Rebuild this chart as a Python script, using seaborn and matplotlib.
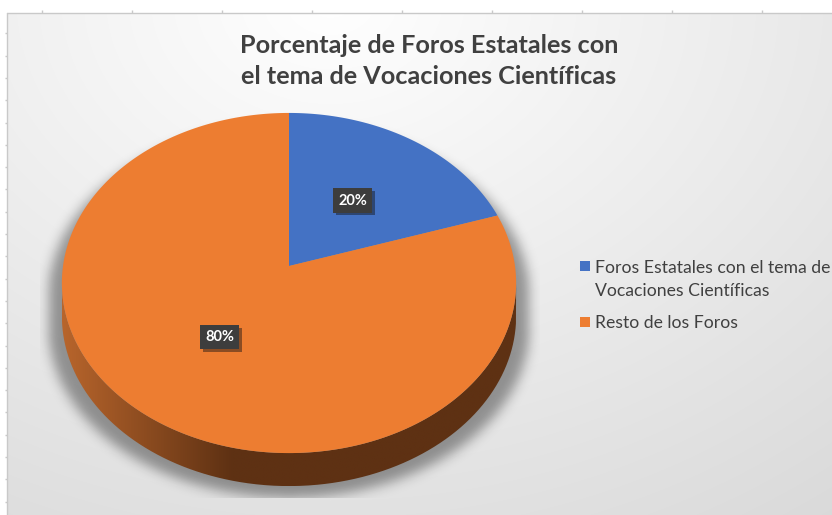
import numpy as np
import matplotlib
matplotlib.use("Agg")
import matplotlib.pyplot as plt
import matplotlib.transforms as mtransforms
import matplotlib.patheffects as pe
from matplotlib.path import Path
from matplotlib.patches import PathPatch
from matplotlib.colors import to_rgb
import seaborn as sns

# chart data
categories = ["Foros Estatales con el tema de\nVocaciones Científicas", "Resto de los Foros"]
shares = [20, 80]
slice_colors = ["#4472C4", "#ED7D31"]
title_text = "Porcentaje de Foros Estatales con\nel tema de Vocaciones Científicas"

W, H = 832, 515
PX = 226.0            # pixels per pie radius
TILT = 0.1            # perspective strength (far edge smaller)
SQUASH = 0.745        # vertical squeeze of the tilted disc
DEPTH = 33 / PX       # thickness of the disc


class Tilt(mtransforms.Transform):
    """Project the flat pie onto a tilted disc seen in perspective."""
    input_dims = output_dims = 2

    def __init__(self, drop=0.0):
        super().__init__()
        self.drop = drop

    def transform_non_affine(self, values):
        xy = np.atleast_2d(np.asarray(values, float))
        w = 1 + TILT * xy[:, 1]
        return np.column_stack([xy[:, 0] / w, SQUASH * xy[:, 1] / w - self.drop])

    def transform_path_non_affine(self, path):
        pts = []
        t = np.linspace(0, 1, 30)
        for seg, code in path.iter_bezier():
            pts.extend(seg(t))
        pts = np.array(pts)
        pts = np.vstack([pts, pts[:1]])
        return Path(self.transform_non_affine(pts), closed=True)


sns.set_theme(style="white")
plt.rcParams["font.family"] = ["Lato", "DejaVu Sans"]

fig = plt.figure(figsize=(W / 100, H / 100), dpi=100)

# background: soft radial grey gradient like the spreadsheet chart area
bg = fig.add_axes([0, 0, 1, 1])
bg.set_xlim(0, W)
bg.set_ylim(H, 0)
bg.axis("off")
yy, xx = np.mgrid[0:H, 0:W]
r = np.hypot((xx - 330) / 1.3, yy)
shade = np.clip(1 - 0.058 * r / 255, 0, 1)
img = np.dstack([shade] * 3)
img[:13, :] = 1
img[:, :7] = 1
bg.imshow(img, extent=(0, W, H, 0), aspect="auto", interpolation="bilinear", zorder=0)
grid_c = "#c9c9c9"
bg.plot([7.3, W], [12.7, 12.7], color=grid_c, lw=1, zorder=1)
bg.plot([7.3, 7.3], [12.7, H], color=grid_c, lw=1, zorder=1)
bg.vlines(41.6 + 90.1 * np.arange(9), 9.5, 12.7, color=grid_c, lw=1, zorder=1)
bg.hlines(33.3 + 22.3 * np.arange(22), 4.5, 7.3, color=grid_c, lw=1, zorder=1)

# multi-line text with va="baseline" sits on the baseline of its last line
bg.text(429, 84, title_text, ha="center", va="baseline", fontsize=18.2,
        fontweight="bold", color="#404040", linespacing=1.43, zorder=5)

# legend drawn like the spreadsheet one: square marker beside the first line
for name, col, y, base in zip(categories, slice_colors, [266, 322], [296, 328]):
    bg.scatter([585], [y], marker="s", s=50, color=col, linewidths=0, zorder=5)
    bg.text(595, base, name, ha="left", va="baseline", fontsize=12.7,
            color="#404040", linespacing=1.55, zorder=5)

# pie axes: 1 data unit = PX pixels in both directions, pie centre at (289, 266)
ax = fig.add_axes([40 / W, 10 / H, 500 / W, 405 / H])
ax.patch.set_alpha(0)

wedges, _, autotexts = ax.pie(
    shares, colors=slice_colors, startangle=90, counterclock=False,
    autopct="%1.0f%%", pctdistance=0.5, wedgeprops=dict(linewidth=0),
    textprops=dict(color="white", fontsize=10.5, fontweight="bold"))

for w in wedges:
    w.set_transform(Tilt() + ax.transData)
    w.set_zorder(3)

ax.set_aspect("auto")
ax.axis("off")

# rim of the disc and the visible side band
ang = np.linspace(0, 2 * np.pi, 1441)
rim = Tilt().transform_non_affine(np.column_stack([np.cos(ang), np.sin(ang)]))
i_left, i_right = rim[:, 0].argmin(), rim[:, 0].argmax()
lower = rim[i_left:i_right + 1]
band = np.vstack([lower, (lower - [0, DEPTH])[::-1]])
side_clip = PathPatch(Path(band, closed=False), transform=ax.transData, fc="none", ec="none")

x0, x1 = lower[:, 0].min(), lower[:, 0].max()
gx = np.linspace(x0, x1, 400)
mix = np.clip((gx - x0) / (170 / PX), 0, 1)[None, :, None]
light, dark = np.array(to_rgb("#B8652C")), np.array(to_rgb("#5E3113"))
ramp = light * (1 - mix) + dark * mix
side = ax.imshow(ramp, extent=(x0, x1, lower[:, 1].min() - DEPTH, lower[:, 1].max()),
                 aspect="auto", zorder=2, interpolation="bilinear")
side.set_clip_path(side_clip)

# blurred drop shadow under the disc
sil = np.vstack([rim[i_right:], rim[:i_left + 1], lower - [0, DEPTH]])
sil = sil * [1.06, 1.0] - [0, 12 / PX]
y_cut = -(498 - 266) / PX
sx = np.linspace(-249 / PX, 251 / PX, 500)
sy = np.linspace(y_cut, 166 / PX, 400)
gxx, gyy = np.meshgrid(sx, sy)
mask = Path(sil).contains_points(np.column_stack([gxx.ravel(), gyy.ravel()])).reshape(gxx.shape)
k = np.exp(-0.5 * (np.arange(-21, 22) / 6.0) ** 2)
k /= k.sum()
blur = np.apply_along_axis(lambda v: np.convolve(v, k, mode="same"), 1, mask.astype(float))
blur = np.apply_along_axis(lambda v: np.convolve(v, k, mode="same"), 0, blur)
shadow = np.zeros(blur.shape + (4,))
shadow[..., 3] = blur * 0.38
ax.imshow(shadow, extent=(sx[0], sx[-1], sy[0], sy[-1]), origin="lower",
          aspect="auto", zorder=1, interpolation="bilinear")

# percentage labels in dark boxes
for t in autotexts:
    t.set_position(Tilt().transform_non_affine([t.get_position()])[0])
    t.set_zorder(5)
    t.set_bbox(dict(boxstyle="square,pad=0.35", fc="#3d3d3d", ec="none"))
    t.get_bbox_patch().set_path_effects(
        [pe.SimplePatchShadow(offset=(2, -2), alpha=0.45), pe.Normal()])

ax.set_xlim(-249 / PX, 251 / PX)
ax.set_ylim(-239 / PX, 166 / PX)

fig.savefig("out.png", dpi=100)
